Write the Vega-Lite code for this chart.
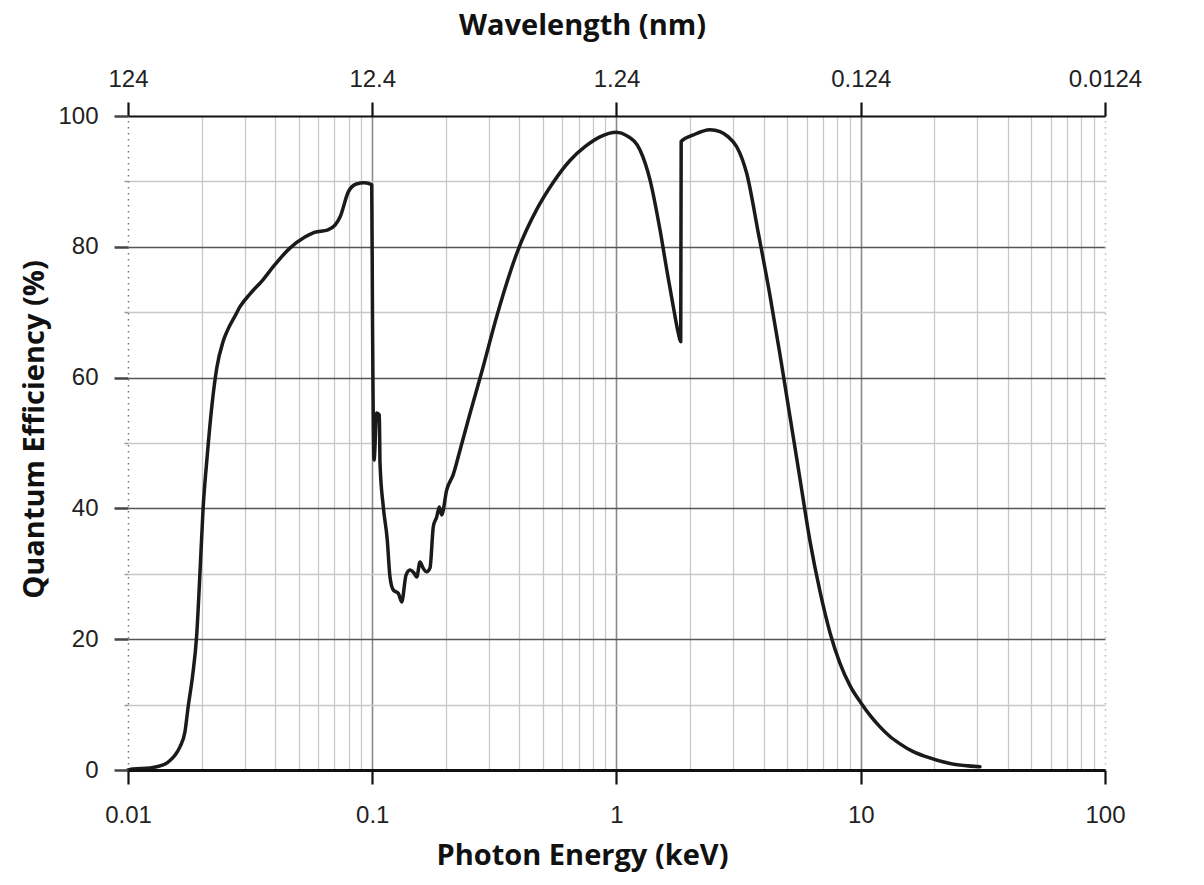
{
  "$schema": "https://vega.github.io/schema/vega-lite/v6.json",
  "width": 977,
  "height": 654,
  "autosize": "none",
  "padding": {"left": 128, "top": 116, "right": 99, "bottom": 115},
  "background": "white",
  "config": {
    "view": {"stroke": null},
    "axis": {
      "labelFont": "Liberation Sans",
      "labelFontSize": 24,
      "labelColor": "#222222",
      "titleFont": "Open Sans",
      "titleFontWeight": "bold",
      "titleFontSize": 29,
      "titleColor": "#111111"
    }
  },
  "data": {
    "values": [
      {"e": 0.01, "qe": 0},
      {"e": 0.0105, "qe": 0.15},
      {"e": 0.0123, "qe": 0.3},
      {"e": 0.0131, "qe": 0.5},
      {"e": 0.0142, "qe": 0.9},
      {"e": 0.0149, "qe": 1.5},
      {"e": 0.0156, "qe": 2.3},
      {"e": 0.0163, "qe": 3.5},
      {"e": 0.0171, "qe": 5.8},
      {"e": 0.01765, "qe": 9.8},
      {"e": 0.0184, "qe": 14.5},
      {"e": 0.0191, "qe": 20.5},
      {"e": 0.0197, "qe": 30},
      {"e": 0.0203, "qe": 40},
      {"e": 0.0211, "qe": 48},
      {"e": 0.0221, "qe": 56},
      {"e": 0.0231, "qe": 61.5},
      {"e": 0.0245, "qe": 65.5},
      {"e": 0.0256, "qe": 67.3},
      {"e": 0.0275, "qe": 69.5},
      {"e": 0.0287, "qe": 70.8},
      {"e": 0.0316, "qe": 72.8},
      {"e": 0.0354, "qe": 74.8},
      {"e": 0.04, "qe": 77.3},
      {"e": 0.046, "qe": 79.8},
      {"e": 0.053, "qe": 81.5},
      {"e": 0.058, "qe": 82.2},
      {"e": 0.0659, "qe": 82.6},
      {"e": 0.0704, "qe": 83.3},
      {"e": 0.0739, "qe": 84.6},
      {"e": 0.0798, "qe": 88.4},
      {"e": 0.086, "qe": 89.6},
      {"e": 0.093, "qe": 89.8},
      {"e": 0.0995, "qe": 89.5},
      {"e": 0.1002, "qe": 70},
      {"e": 0.1017, "qe": 47.4},
      {"e": 0.1043, "qe": 54.6},
      {"e": 0.1069, "qe": 54.3},
      {"e": 0.1076, "qe": 46.9},
      {"e": 0.111, "qe": 40.2},
      {"e": 0.1152, "qe": 35.2},
      {"e": 0.1182, "qe": 29.5},
      {"e": 0.122, "qe": 27.5},
      {"e": 0.1279, "qe": 27.0},
      {"e": 0.132, "qe": 25.7},
      {"e": 0.1375, "qe": 29.8},
      {"e": 0.1428, "qe": 30.6},
      {"e": 0.1483, "qe": 30.1},
      {"e": 0.1521, "qe": 29.5},
      {"e": 0.1569, "qe": 31.8},
      {"e": 0.1609, "qe": 31.0},
      {"e": 0.1671, "qe": 30.3},
      {"e": 0.1724, "qe": 30.9},
      {"e": 0.1778, "qe": 37.2},
      {"e": 0.1836, "qe": 38.7},
      {"e": 0.1882, "qe": 40.2},
      {"e": 0.1924, "qe": 39.0},
      {"e": 0.2017, "qe": 42.8},
      {"e": 0.2147, "qe": 45.2},
      {"e": 0.2287, "qe": 48.9},
      {"e": 0.2513, "qe": 54.5},
      {"e": 0.2814, "qe": 61},
      {"e": 0.3241, "qe": 69.5},
      {"e": 0.3951, "qe": 79.5},
      {"e": 0.4727, "qe": 85.8},
      {"e": 0.5495, "qe": 89.8},
      {"e": 0.645, "qe": 93.2},
      {"e": 0.743, "qe": 95.3},
      {"e": 0.856, "qe": 96.8},
      {"e": 1.0, "qe": 97.5},
      {"e": 1.1, "qe": 97},
      {"e": 1.248, "qe": 94.8},
      {"e": 1.372, "qe": 90.2},
      {"e": 1.507, "qe": 82.6},
      {"e": 1.606, "qe": 76.5},
      {"e": 1.709, "qe": 70.8},
      {"e": 1.791, "qe": 66.8},
      {"e": 1.832, "qe": 65.5},
      {"e": 1.84, "qe": 96.1},
      {"e": 2.063, "qe": 97.1},
      {"e": 2.414, "qe": 97.9},
      {"e": 2.653, "qe": 97.6},
      {"e": 2.869, "qe": 96.8},
      {"e": 3.106, "qe": 95.3},
      {"e": 3.414, "qe": 91.2},
      {"e": 3.808, "qe": 82.1},
      {"e": 4.252, "qe": 72.5},
      {"e": 4.672, "qe": 63.5},
      {"e": 5.133, "qe": 54},
      {"e": 5.64, "qe": 44.5},
      {"e": 6.197, "qe": 35},
      {"e": 6.81, "qe": 27.3},
      {"e": 7.484, "qe": 21.0},
      {"e": 8.222, "qe": 16.3},
      {"e": 9.036, "qe": 12.9},
      {"e": 10.09, "qe": 10.1},
      {"e": 11.0, "qe": 8.2},
      {"e": 11.99, "qe": 6.6},
      {"e": 13.1, "qe": 5.2},
      {"e": 14.48, "qe": 4.0},
      {"e": 16.4, "qe": 2.8},
      {"e": 18.62, "qe": 2.0},
      {"e": 23.2, "qe": 1.0},
      {"e": 30.77, "qe": 0.5}
    ]
  },
  "layer": [
    {
      "mark": {"type": "line", "opacity": 0},
      "encoding": {
        "x": {
          "field": "e", "type": "quantitative",
          "scale": {"type": "log", "domain": [0.01, 100], "nice": false},
          "axis": {
            "orient": "bottom", "title": null, "labels": false, "ticks": false, "domain": false,
            "grid": true, "gridColor": "#c8c8c8", "gridWidth": 1.3, "zindex": 0,
            "values": [0.02, 0.03, 0.04, 0.05, 0.06, 0.07, 0.08, 0.09, 0.2, 0.3, 0.4, 0.5, 0.6, 0.7, 0.8, 0.9, 2, 3, 4, 5, 6, 7, 8, 9, 20, 30, 40, 50, 60, 70, 80, 90]
          }
        },
        "y": {
          "field": "qe", "type": "quantitative",
          "scale": {"domain": [0, 100], "nice": false, "zero": true},
          "axis": {
            "orient": "right", "title": null, "labels": false, "ticks": false,
            "domain": true, "domainColor": "#bbbbbb", "domainWidth": 1.5, "domainDash": [1.5, 4.5],
            "grid": true, "gridColor": "#c8c8c8", "gridWidth": 1.3, "zindex": 0,
            "values": [10, 30, 50, 70, 90]
          }
        }
      }
    },
    {
      "mark": {"type": "line", "opacity": 0},
      "encoding": {
        "x": {
          "field": "e", "type": "quantitative",
          "scale": {"type": "log", "domain": [0.01, 100], "nice": false},
          "axis": {
            "orient": "bottom", "title": null, "labels": false, "ticks": false, "domain": false,
            "grid": true, "gridColor": "#8a8a8a", "gridWidth": 1.6, "zindex": 0,
            "values": [0.1, 1, 10]
          }
        },
        "y": {
          "field": "qe", "type": "quantitative",
          "scale": {"domain": [0, 100], "nice": false, "zero": true},
          "axis": {
            "orient": "left", "title": null, "labels": false, "ticks": false,
            "domain": true, "domainColor": "#777777", "domainWidth": 1.5, "domainDash": [1.5, 4.5],
            "grid": true, "gridColor": "#555555", "gridWidth": 1.3, "zindex": 0,
            "values": [20, 40, 60, 80]
          }
        }
      }
    },
    {
      "mark": {"type": "line", "color": "#1a1a1a", "strokeWidth": 3.5, "interpolate": "monotone", "strokeJoin": "round", "strokeCap": "round"},
      "encoding": {
        "x": {
          "field": "e", "type": "quantitative",
          "scale": {"type": "log", "domain": [0.01, 100], "nice": false},
          "axis": {
            "orient": "bottom", "title": "Photon Energy (keV)", "titlePadding": 14, "titleX": 454,
            "values": [0.01, 0.1, 1, 10, 100], "format": "~g",
            "labelFlush": false, "labelOverlap": false, "labelBound": false, "labelPadding": 19,
            "ticks": true, "tickSize": 14, "tickWidth": 2.2, "tickColor": "#111111",
            "domain": true, "domainColor": "#111111", "domainWidth": 2.8,
            "grid": false, "zindex": 1
          }
        },
        "y": {
          "field": "qe", "type": "quantitative",
          "scale": {"domain": [0, 100], "nice": false, "zero": true},
          "axis": {
            "orient": "left", "title": "Quantum Efficiency (%)", "titlePadding": 8, "titleY": 313,
            "values": [0, 20, 40, 60, 80, 100],
            "labelPadding": 16, "labelOverlap": false, "labelBound": false, "labelFlush": false,
            "ticks": true, "tickSize": 14, "tickWidth": 2.5, "tickColor": "#444444",
            "domain": false, "grid": false, "zindex": 1
          }
        }
      }
    },
    {
      "mark": {"type": "line", "opacity": 0},
      "encoding": {
        "x": {
          "field": "e", "type": "quantitative",
          "scale": {"type": "log", "domain": [0.01, 100], "nice": false},
          "axis": {
            "orient": "top", "title": "Wavelength (nm)", "titlePadding": 27, "titleX": 454,
            "values": [0.01, 0.1, 1, 10, 100],
            "labelExpr": "datum.value < 0.05 ? '124' : datum.value < 0.5 ? '12.4' : datum.value < 5 ? '1.24' : datum.value < 50 ? '0.124' : '0.0124'",
            "labelFlush": false, "labelOverlap": false, "labelBound": false, "labelPadding": 11,
            "ticks": true, "tickSize": 14, "tickWidth": 2.2, "tickColor": "#111111",
            "domain": true, "domainColor": "#111111", "domainWidth": 2.2,
            "grid": false, "zindex": 1
          }
        },
        "y": {
          "field": "qe", "type": "quantitative",
          "scale": {"domain": [0, 100], "nice": false, "zero": true},
          "axis": {
            "orient": "left", "title": null, "labels": false,
            "values": [10, 30, 50, 70, 90],
            "ticks": true, "tickSize": 4, "tickWidth": 1.5, "tickColor": "#999999",
            "domain": false, "grid": false, "zindex": 1
          }
        }
      }
    }
  ],
  "resolve": {"axis": {"x": "independent", "y": "independent"}}
}
